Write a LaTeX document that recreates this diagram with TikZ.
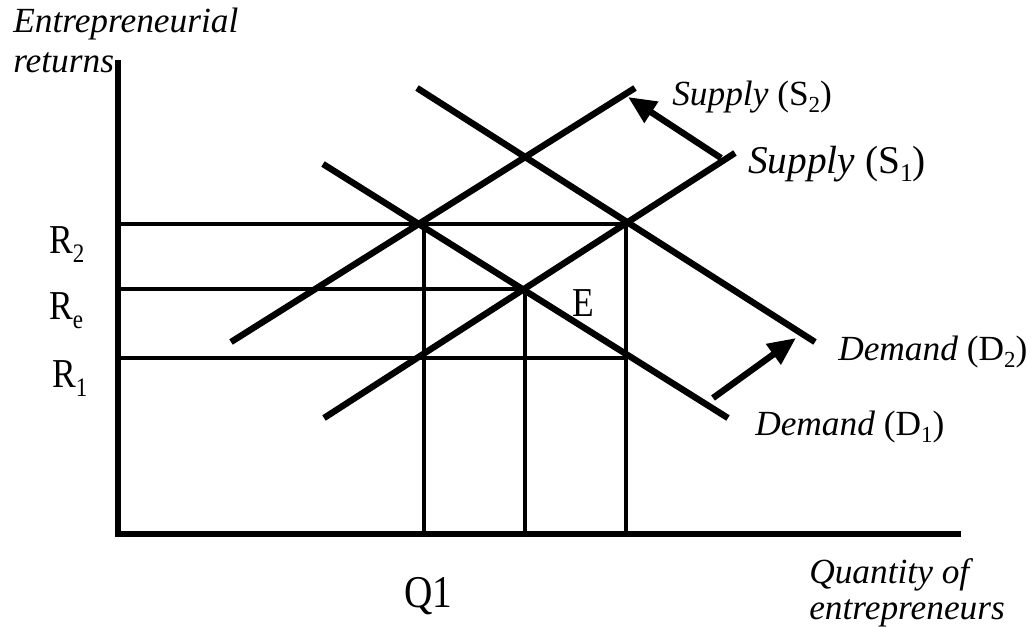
\documentclass[tikz,border=0pt]{standalone}
\usepackage{fontspec}
\usepackage{graphicx}
\setmainfont{Liberation Serif}
\usetikzlibrary{arrows.meta}
\newcommand\subs[1]{\raisebox{-0.22em}{\scalebox{0.65}{#1}}}
\newcommand\tallish[1]{\scalebox{0.95}[1.1]{#1}}
\begin{document}
\begin{tikzpicture}[x=0.75pt,y=-0.75pt,
  axisline/.style={line width=3.9pt},
  guide/.style={line width=2.8pt},
  curveline/.style={line width=4.8pt},
  shiftarrow/.style={line width=4.8pt,-{Triangle[length=21pt,width=18pt]}},
  lab/.style={anchor=base west,inner sep=0pt,font=\fontsize{26.5}{30}\selectfont},
  labbig/.style={anchor=base west,inner sep=0pt,font=\fontsize{29.5}{33}\selectfont},
  uplab/.style={anchor=base west,inner sep=0pt,font=\fontsize{28}{32}\selectfont},
  qlab/.style={anchor=base west,inner sep=0pt,font=\fontsize{31}{35}\selectfont}]
\useasboundingbox (0,0) rectangle (1032,626);
% axes
\coordinate (top) at (118,60);
\coordinate (origin) at (118,534);
\coordinate (xend) at (961,534);
\draw[axisline] (top) -- (origin) -- (xend);
% guide points
\coordinate (yR2) at (118,224);
\coordinate (yRe) at (118,289);
\coordinate (yR1) at (118,358);
\coordinate (A) at (424,224);
\coordinate (Eq) at (525,289);
\coordinate (B) at (626,224);
\coordinate (C) at (626,358);
\coordinate (xA) at (424,534);
\coordinate (xE) at (525,534);
\coordinate (xB) at (626,534);
\draw[guide] (yR2) -- (B);
\draw[guide] (yRe) -- (Eq);
\draw[guide] (yR1) -- (C);
\draw[guide] (A) -- (xA);
\draw[guide] (Eq) -- (xE);
\draw[guide] (B) -- (xB);
% curves
\coordinate (s1a) at (324,418);
\coordinate (s1b) at (735,153);
\coordinate (s2a) at (231,342);
\coordinate (s2b) at (635,88);
\coordinate (d1a) at (323,164);
\coordinate (d1b) at (728,418);
\coordinate (d2a) at (417,88);
\coordinate (d2b) at (815,342);
\draw[curveline] (s1a) -- (s1b);
\draw[curveline] (s2a) -- (s2b);
\draw[curveline] (d1a) -- (d1b);
\draw[curveline] (d2a) -- (d2b);
% shift arrows
\coordinate (sa1) at (721,158);
\coordinate (sa2) at (628,97);
\coordinate (da1) at (713,398);
\coordinate (da2) at (796,338);
\draw[shiftarrow] (sa1) -- (sa2);
\draw[shiftarrow] (da1) -- (da2);
% labels
\node[lab] (ylab1) at (13,32) {\textit{Entrepreneurial}};
\node[lab] (ylab2) at (13,72) {\textit{returns}};
\node[lab] (s2lab) at (672,105) {\textit{Supply} (S\subs{2})};
\node[labbig] (s1lab) at (748,173) {\textit{Supply} (S\subs{1})};
\node[lab] (d2lab) at (838,360) {\textit{Demand} (D\subs{2})};
\node[lab] (d1lab) at (755,435) {\textit{Demand} (D\subs{1})};
\node[uplab] (r2lab) at (49,253) {\tallish{R\subs{2}}};
\node[uplab] (relab) at (49,319) {\tallish{R\subs{e}}};
\node[uplab] (r1lab) at (52,387) {\tallish{R\subs{1}}};
\node[uplab] (elab) at (572,316) {\tallish{E}};
\node[qlab] (qlab) at (404,607) {\tallish{Q1}};
\node[lab] (xlab1) at (809,583) {\textit{Quantity of}};
\node[lab] (xlab2) at (809,619) {\textit{entrepreneurs}};
\end{tikzpicture}
\end{document}
